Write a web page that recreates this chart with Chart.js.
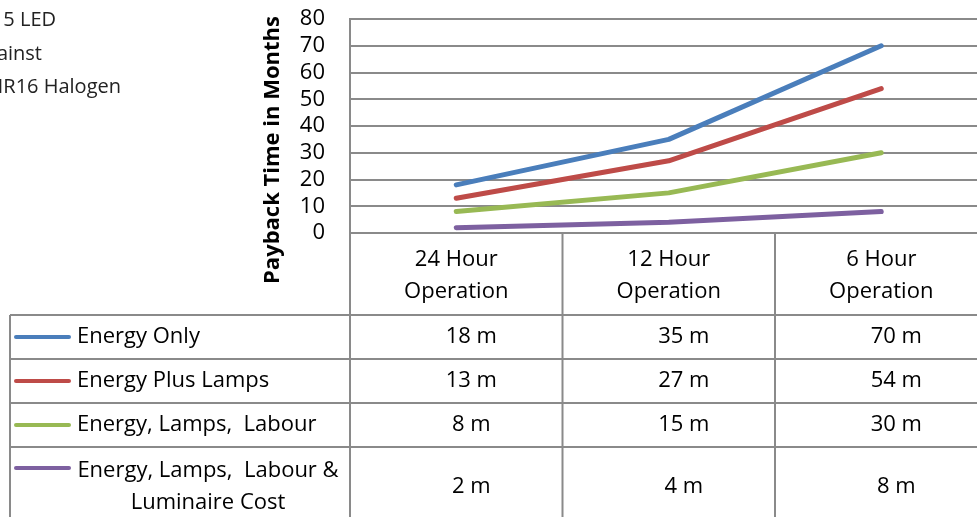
<!DOCTYPE html>
<html>
<head>
    <title>Payback Time</title>
    <script src="https://cdn.jsdelivr.net/npm/chart.js"></script>
    <style>
        html, body { margin: 0; padding: 0; background: #fff; }
        #wrap { width: 977px; height: 517px; overflow: hidden; position: relative; }
    </style>
</head>
<body>
    <div id="wrap">
        <canvas id="paybackChart" width="990" height="517"></canvas>
    </div>

    <script>
        // data
        const categories = [['24 Hour', 'Operation'], ['12 Hour', 'Operation'], ['6 Hour', 'Operation']];
        const seriesNames = [['Energy Only'], ['Energy Plus Lamps'], ['Energy, Lamps,  Labour'], ['Energy, Lamps,  Labour &', 'Luminaire Cost']];
        const energyOnly = [18, 35, 70];
        const energyPlusLamps = [13, 27, 54];
        const energyLampsLabour = [8, 15, 30];
        const energyLampsLabourLuminaire = [2, 4, 8];
        const seriesColors = ['#4A7EBB', '#BE4B48', '#98B954', '#7D60A0'];
        const titleLines = ['MR16 5 LED', 'against', 'MR16 Halogen'];
        const yTitle = 'Payback Time in Months';

        const allSeries = [energyOnly, energyPlusLamps, energyLampsLabour, energyLampsLabourLuminaire];
        const gridColor = '#8a8a8a';
        const font = '"Open Sans", sans-serif';

        // table + labels under the plot
        const tablePlugin = {
            id: 'tablePlugin',
            afterDraw(chart) {
                const ctx = chart.ctx;
                const x = chart.scales.x;
                const area = chart.chartArea;
                const half = (x.getPixelForValue(1) - x.getPixelForValue(0)) / 2;
                const headerBottom = 315;
                const rowLines = [315, 359, 403, 447, 517];
                const tableLeft = 10;
                ctx.save();

                // lines
                ctx.strokeStyle = gridColor;
                ctx.lineWidth = 2;
                ctx.beginPath();
                rowLines.slice(0, 4).forEach(y => {
                    ctx.moveTo(tableLeft, y);
                    ctx.lineTo(chart.width, y);
                });
                ctx.moveTo(tableLeft, headerBottom);
                ctx.lineTo(tableLeft, chart.height);
                ctx.moveTo(area.left, area.bottom);
                ctx.lineTo(area.left, chart.height);
                for (let i = 0; i < categories.length; i++) {
                    const bx = x.getPixelForValue(i) + half;
                    ctx.moveTo(bx, area.bottom);
                    ctx.lineTo(bx, chart.height);
                }
                ctx.stroke();

                // header labels
                ctx.fillStyle = '#000';
                ctx.font = '22px ' + font;
                ctx.textAlign = 'center';
                ctx.textBaseline = 'middle';
                categories.forEach((lines, i) => {
                    const cx = x.getPixelForValue(i);
                    ctx.fillText(lines[0], cx, 260);
                    ctx.fillText(lines[1], cx, 292);
                });

                // rows
                allSeries.forEach((vals, r) => {
                    const top = rowLines[r], bottom = rowLines[r + 1];
                    const cy = r < 3 ? (top + bottom) / 2 : 487;
                    const names = seriesNames[r];
                    const keyY = names.length > 1 ? 468 : cy;
                    ctx.strokeStyle = seriesColors[r];
                    ctx.lineWidth = 4;
                    ctx.lineCap = 'round';
                    ctx.beginPath();
                    ctx.moveTo(16, keyY);
                    ctx.lineTo(69, keyY);
                    ctx.stroke();

                    ctx.fillStyle = '#000';
                    if (names.length > 1) {
                        ctx.textAlign = 'center';
                        ctx.fillText(names[0], 208, 471);
                        ctx.fillText(names[1], 208, 503);
                    } else {
                        ctx.textAlign = 'left';
                        ctx.fillText(names[0], 77, cy);
                    }
                    ctx.textAlign = 'center';
                    vals.forEach((v, i) => {
                        ctx.fillText(v + ' m', x.getPixelForValue(i) + 15, cy);
                    });
                });

                // y title
                ctx.save();
                ctx.translate(273, 150);
                ctx.rotate(-Math.PI / 2);
                ctx.font = 'bold 22px ' + font;
                ctx.textAlign = 'center';
                ctx.fillText(yTitle, 0, 0);
                ctx.restore();

                // chart title (cut off at the left)
                ctx.font = '20px ' + font;
                ctx.fillStyle = '#222';
                ctx.textAlign = 'right';
                ctx.fillText(titleLines[0], 56, 20);
                ctx.fillText(titleLines[1], 42, 54);
                ctx.fillText(titleLines[2], 121, 87);
                ctx.restore();
            }
        };

        const ctx1 = document.getElementById('paybackChart').getContext('2d');
        new Chart(ctx1, {
            type: 'line',
            data: {
                labels: categories,
                datasets: allSeries.map((vals, i) => ({
                    label: seriesNames[i].join(' '),
                    data: vals,
                    borderColor: seriesColors[i],
                    backgroundColor: seriesColors[i],
                    borderWidth: 5,
                    borderCapStyle: 'round',
                    borderJoinStyle: 'round',
                    pointRadius: 0,
                    tension: 0
                }))
            },
            options: {
                responsive: false,
                animation: false,
                layout: { padding: { left: 0, right: 2.5, top: 0, bottom: 284 } },
                plugins: { legend: { display: false }, tooltip: { enabled: false } },
                scales: {
                    x: {
                        display: false,
                        offset: true
                    },
                    y: {
                        min: 0,
                        max: 80,
                        afterFit(scale) {
                            scale.width = 350;
                            scale.paddingTop = 19;
                            scale.paddingBottom = 0;
                        },
                        ticks: {
                            stepSize: 10,
                            autoSkip: false,
                            padding: 25,
                            color: '#000',
                            font: { family: '"Open Sans", sans-serif', size: 22, lineHeight: 1 }
                        },
                        grid: { color: gridColor, lineWidth: 2, drawTicks: false },
                        border: { color: gridColor, width: 2 }
                    }
                }
            },
            plugins: [tablePlugin]
        });
    </script>
</body>
</html>
